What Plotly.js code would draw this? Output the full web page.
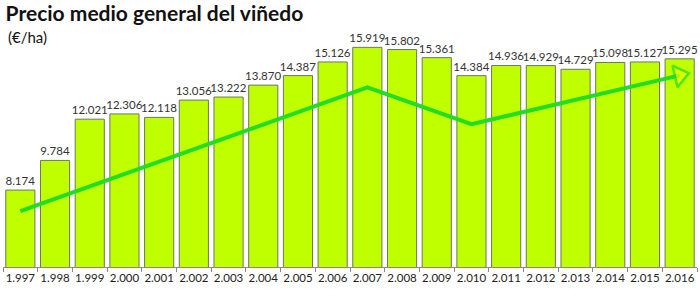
<!DOCTYPE html>
<html>
<head>
<meta charset="utf-8">
<script src="https://cdn.plot.ly/plotly-3.0.1.min.js"></script>
<style>html,body{margin:0;padding:0;background:#fff;}#chart{width:700px;height:300px;}</style>
</head>
<body>
<div id="chart"></div>
<script>
var years = ['1.997','1.998','1.999','2.000','2.001','2.002','2.003','2.004','2.005','2.006','2.007','2.008','2.009','2.010','2.011','2.012','2.013','2.014','2.015','2.016'];
var prices = [8174, 9784, 12021, 12306, 12118, 13056, 13222, 13870, 14387, 15126, 15919, 15802, 15361, 14384, 14936, 14929, 14729, 15098, 15127, 15295];
var trendYears = ['1.997','2.007','2.010','2.016'];
var trendValues = [7030, 13750, 11750, 14400];

function fmt(v){ return String(v).replace(/\B(?=(\d{3})+(?!\d))/g, '.'); }
var labels = prices.map(fmt);

var FONT = 'Lato, "Open Sans", sans-serif';

var bars = {
  type: 'bar', x: years, y: prices,
  marker: {color: '#BFFF00', line: {color: '#6E7560', width: 1}},
  text: labels, textposition: 'outside', cliponaxis: false, constraintext: 'none',
  textfont: {family: FONT, size: 11.5, color: '#333333'},
  hoverinfo: 'x+y'
};
var trend = {
  type: 'scatter', mode: 'lines+markers', x: trendYears, y: trendValues,
  line: {color: '#22DD22', width: 4},
  marker: {symbol: ['circle','circle','circle','triangle-up'], size: [0,0,0,19], angleref: 'previous',
           color: '#E8FF00', line: {color: '#22DD22', width: 2.5}},
  cliponaxis: false, hoverinfo: 'skip'
};

var layout = {
  width: 700, height: 300,
  margin: {l: 3, r: 3, t: 9, b: 33},
  paper_bgcolor: '#ffffff', plot_bgcolor: '#ffffff',
  showlegend: false,
  bargap: 0.16,
  font: {family: FONT, color: '#222'},
  title: {text: '<b>Precio medio general del viñedo</b>', x: 0.008, xanchor: 'left', y: 0.955, yanchor: 'middle', yref: 'container',
          font: {family: FONT, size: 21, color: '#111'}},
  annotations: [{text: '(€/ha)', xref: 'paper', yref: 'paper', x: 0, xanchor: 'left', y: 0.89, yanchor: 'middle',
                 xshift: 3, showarrow: false, font: {family: FONT, size: 15, color: '#111'}}],
  xaxis: {type: 'category', tickson: 'boundaries', ticks: 'outside', ticklen: 4, tickcolor: '#888',
          showline: true, linecolor: '#888', linewidth: 1, showgrid: false, zeroline: false,
          tickangle: 0, automargin: false, range: [-0.5, 19.5], autorange: false,
          tickfont: {family: FONT, size: 11.5, color: '#222'}, fixedrange: true},
  yaxis: {visible: false, range: [4000, 18000], autorange: false, fixedrange: true}
};

Plotly.newPlot('chart', [bars, trend], layout, {staticPlot: true});
</script>
</body>
</html>
